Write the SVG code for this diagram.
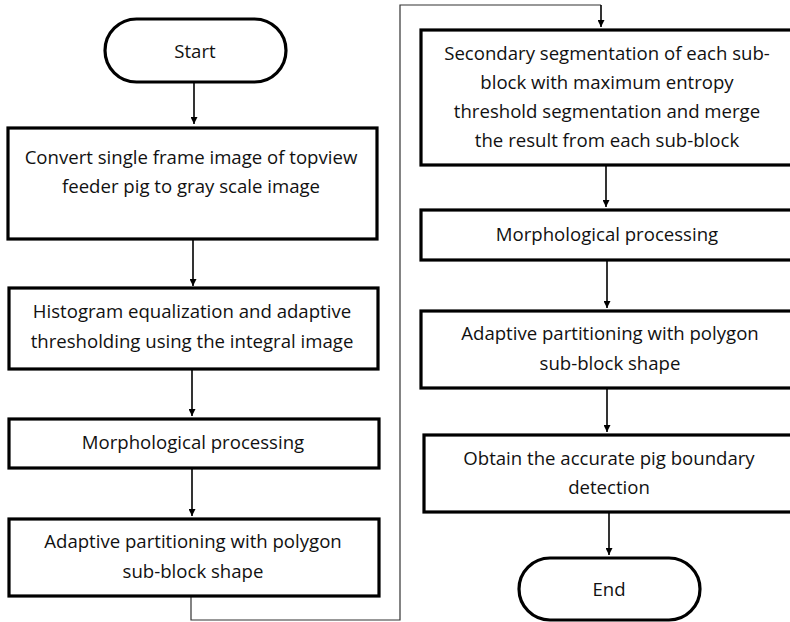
<svg xmlns="http://www.w3.org/2000/svg" width="790" height="622" viewBox="0 0 790 622">
<defs>
<style>
.box{fill:#fff;stroke:#000;stroke-width:3.2}
.t{font-family:"Open Sans","Liberation Sans",sans-serif;font-size:18.6px;fill:#111;text-anchor:middle}
.c{fill:none;stroke:#000;stroke-width:1.6}
.loop{fill:none;stroke:#333;stroke-width:1.2}
</style>
<marker id="ah" viewBox="0 0 10 10" refX="10" refY="5" markerWidth="7" markerHeight="7" markerUnits="userSpaceOnUse" orient="auto">
<path d="M0,0 L10,5 L0,10 Z" fill="#000"/>
</marker>
</defs>
<rect width="790" height="622" fill="#fff"/>
<g id="connectors">
<line class="c" x1="194" y1="82" x2="194" y2="124" marker-end="url(#ah)"/>
<line class="c" x1="193" y1="240" x2="193" y2="286" marker-end="url(#ah)"/>
<line class="c" x1="192" y1="370" x2="192" y2="416" marker-end="url(#ah)"/>
<line class="c" x1="192" y1="469" x2="192" y2="516" marker-end="url(#ah)"/>
<polyline class="loop" points="191,597 191,620 400,620 400,5 601,5"/>
<line class="c" x1="601" y1="5" x2="601" y2="27" marker-end="url(#ah)"/>
<line class="c" x1="606" y1="166" x2="606" y2="207" marker-end="url(#ah)"/>
<line class="c" x1="607" y1="261" x2="607" y2="308" marker-end="url(#ah)"/>
<line class="c" x1="607" y1="389" x2="607" y2="432" marker-end="url(#ah)"/>
<line class="c" x1="609" y1="513" x2="609" y2="555" marker-end="url(#ah)"/>
</g>
<g id="start">
<rect class="box" x="105" y="19" width="181" height="63" rx="31.5" ry="31.5"/>
<text class="t" x="195" y="58">Start</text>
</g>
<g id="convert">
<rect class="box" x="8" y="128" width="369" height="111"/>
<text class="t" x="191" y="164">Convert single frame image of topview</text>
<text class="t" x="191" y="193">feeder pig to gray scale image</text>
</g>
<g id="histogram">
<rect class="box" x="9" y="288" width="369" height="81"/>
<text class="t" x="192" y="318">Histogram equalization and adaptive</text>
<text class="t" x="192" y="348">thresholding using the integral image</text>
</g>
<g id="morph1">
<rect class="box" x="9" y="419" width="370" height="49"/>
<text class="t" x="193" y="449">Morphological processing</text>
</g>
<g id="partition1">
<rect class="box" x="9" y="519" width="370" height="77"/>
<text class="t" x="193" y="548">Adaptive partitioning with polygon</text>
<text class="t" x="193" y="578">sub-block shape</text>
</g>
<g id="secondary">
<rect class="box" x="421" y="30" width="372" height="135"/>
<text class="t" x="607" y="60">Secondary segmentation of each sub-</text>
<text class="t" x="607" y="89">block with maximum entropy</text>
<text class="t" x="607" y="118">threshold segmentation and merge</text>
<text class="t" x="607" y="147">the result from each sub-block</text>
</g>
<g id="morph2">
<rect class="box" x="421" y="210" width="372" height="50"/>
<text class="t" x="607" y="241">Morphological processing</text>
</g>
<g id="partition2">
<rect class="box" x="421" y="311" width="372" height="77"/>
<text class="t" x="610" y="340">Adaptive partitioning with polygon</text>
<text class="t" x="610" y="370">sub-block shape</text>
</g>
<g id="obtain">
<rect class="box" x="424" y="435" width="369" height="77"/>
<text class="t" x="609" y="465">Obtain the accurate pig boundary</text>
<text class="t" x="609" y="494">detection</text>
</g>
<g id="end">
<rect class="box" x="519" y="558" width="181" height="62" rx="31" ry="31"/>
<text class="t" x="609" y="596">End</text>
</g>
</svg>
